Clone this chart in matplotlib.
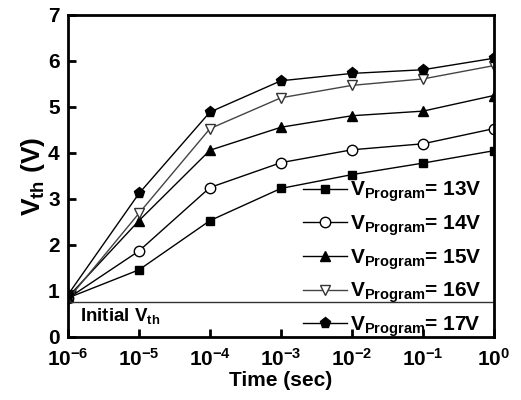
import matplotlib
matplotlib.use("Agg")
from matplotlib import pyplot as plt

plt.rcParams['font.family'] = ['Liberation Sans', 'DejaVu Sans']
plt.rcParams['font.weight'] = 'bold'
plt.rcParams['mathtext.fontset'] = 'custom'
plt.rcParams['mathtext.rm'] = 'Liberation Sans:bold'
plt.rcParams['mathtext.bf'] = 'Liberation Sans:bold'
plt.rcParams['mathtext.it'] = 'Liberation Sans:bold'

# data
time = [1e-6, 1e-5, 1e-4, 1e-3, 1e-2, 1e-1, 1e0]
vth_13 = [0.85, 1.46, 2.53, 3.23, 3.53, 3.78, 4.05]
vth_14 = [0.84, 1.87, 3.25, 3.79, 4.07, 4.20, 4.53]
vth_15 = [0.87, 2.53, 4.06, 4.56, 4.81, 4.91, 5.25]
vth_16 = [0.82, 2.69, 4.53, 5.20, 5.47, 5.61, 5.90]
vth_17 = [0.92, 3.12, 4.89, 5.57, 5.73, 5.81, 6.06]
initial_vth = 0.76
labels = ["13V", "14V", "15V", "16V", "17V"]

fig = plt.figure(figsize=(5.21, 4.0), dpi=100)
ax = fig.add_axes([0.1305, 0.1575, 0.8175, 0.805])

ax.plot(time, vth_13, color='black', lw=1, marker='s', ms=6, mfc='black')
ax.plot(time, vth_14, color='black', lw=1, marker='o', ms=7.5, mfc='white', mec='black')
ax.plot(time, vth_15, color='black', lw=1, marker='^', ms=7.5, mfc='black')
ax.plot(time, vth_16, color='#444444', lw=1, marker='v', ms=7.5, mfc='white', mec='#333333')
ax.plot(time, vth_17, color='black', lw=1, marker='p', ms=8, mfc='black')

# initial threshold level
ax.axhline(initial_vth, color='#333333', lw=1)
ax.text(1.5e-6, 0.45, r'Initial V$_{\mathrm{th}}$', fontsize=13.5, va='center')

ax.set_xscale('log')
ax.set_xlim(1e-6, 1e0)
ax.set_ylim(0, 7)
ax.set_xticks(time)
ax.set_xticklabels(['$10^{%d}$' % e for e in range(-6, 1)])
ax.minorticks_off()
ax.set_yticks(range(0, 8))
ax.tick_params(direction='in', length=6, width=2, labelsize=15)
ax.tick_params(axis='x', pad=8)
ax.tick_params(axis='y', pad=6)
for s in ax.spines.values():
    s.set_linewidth(2)

ax.set_xlabel('Time (sec)', fontsize=15, fontweight='bold', labelpad=1)
ax.set_ylabel(r'V$_{\mathrm{th}}$ (V)', fontsize=19, fontweight='bold', labelpad=1)

leg = ax.legend([r'V$_{\mathrm{Program}}$= ' + l for l in labels],
                loc='lower right', bbox_to_anchor=(1.0, -0.045), frameon=False,
                fontsize=15, handlelength=2.1, handletextpad=0.15,
                labelspacing=0.44, borderaxespad=0.2)

fig.savefig('out.png', dpi=100)
